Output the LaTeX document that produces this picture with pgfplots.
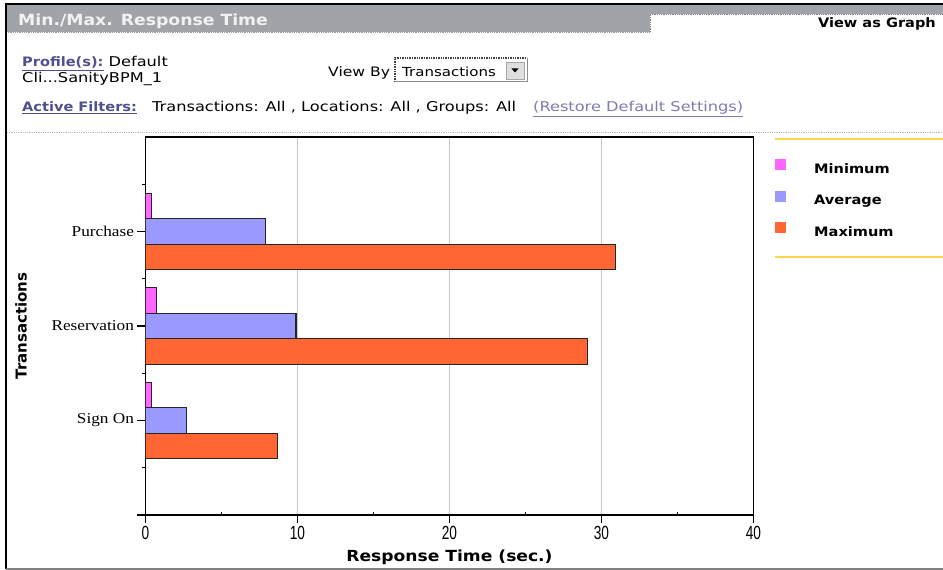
\documentclass[border=0pt]{standalone}
\usepackage{pgfplots}
\pgfplotsset{compat=1.18}
\usepackage{fontspec}
\setmainfont{DejaVu Sans}
\newfontfamily\uifont[FakeStretch=1.2]{DejaVu Sans}
\newfontfamily\uibold[FakeStretch=1.12]{DejaVu Sans}
\newfontfamily\catfont[FakeStretch=1.15]{Liberation Serif}
\newfontfamily\numfont[FakeStretch=0.72]{Liberation Sans}

\definecolor{minc}{RGB}{255,102,255}
\definecolor{avgc}{RGB}{153,153,255}
\definecolor{maxc}{RGB}{255,102,51}
\definecolor{hdr}{RGB}{160,164,169}
\definecolor{lnk}{RGB}{80,80,140}
\definecolor{lnklight}{RGB}{125,125,175}
\definecolor{gold}{RGB}{255,214,80}
\definecolor{gridc}{RGB}{200,200,200}

\begin{document}
\begin{tikzpicture}
\useasboundingbox (0pt,0pt) rectangle (943pt,570pt);
\fill[white] (0pt,0pt) rectangle (943pt,570pt);
\begin{scope}[x=1pt,y=1pt]
% header bar and tab
\fill[hdr] (6,565) rectangle (943,538);
\fill[white] (650,556) rectangle (943,538);
\draw[gray, densely dotted, line width=0.8pt] (650,538) -- (650,556) -- (943,556);
\draw[gray!80, densely dotted, line width=0.8pt] (6,538) -- (650,538);
\draw[black, line width=2pt] (6,566) -- (943,566);
\draw[black, line width=1.8pt] (6,567) -- (6,1);
\draw[gray, line width=2pt] (6,1) -- (943,1);
\node[anchor=base west, inner sep=0, text=white!95!black,
      font=\uibold\bfseries\fontsize{15.4}{16}\selectfont] at (18,544) {Min./Max. Response Time};
\node[anchor=base east, inner sep=0,
      font=\uibold\bfseries\fontsize{13}{14}\selectfont] at (936,542) {View as Graph};

% profile and filters
\begin{scope}[every node/.style={anchor=base west, inner sep=0, font=\uifont\fontsize{13.5}{15}\selectfont}]
\node at (22,503) {{\uibold\fontsize{13}{15}\selectfont\color{lnk}\bfseries\underline{Profile(s):}} Default};
\node at (22,487.5) {Cli...SanityBPM\_1};
\node[font=\uifont\fontsize{13}{15}\selectfont] at (328,493.5) {View By};
\node[text=lnk, font=\uibold\bfseries\fontsize{13}{15}\selectfont] at (22,458) {\underline{Active Filters:}};
\node at (152,458) {Transactions: All , Locations: All , Groups: All};
\node[text=lnklight] at (533,458) {\underline{(Restore Default Settings)}};
\end{scope}
% view by drop-down
\fill[white] (395,512) rectangle (527,488);
\draw[black!75, densely dotted, line width=1.4pt] (395,488) -- (395,512) -- (527,512);
\draw[black!45, line width=1pt] (395,488) -- (527,488) -- (527,512);
\node[anchor=base west, inner sep=0, font=\uifont\fontsize{12.5}{14}\selectfont] at (402,493.5) {Transactions};
\filldraw[fill=gray!25, draw=gray!70, line width=0.8pt] (506,508) rectangle (524,491);
\fill[black] (511.5,501.5) -- (518.5,501.5) -- (515,497.5) -- cycle;

% separators
\draw[gray!55, densely dotted, line width=0.8pt] (7,438) -- (943,438);
\draw[gold, line width=2pt] (775,431) -- (943,431);
\draw[gold, line width=2pt] (775,313) -- (943,313);
\end{scope}

\begin{axis}[
    at={(145.5pt,55pt)}, anchor=south west,
    scale only axis, width=608pt, height=378pt,
    xbar, bar width=0.27,
    xmin=0, xmax=40, ymin=0, ymax=4,
    xtick={0,10,20,30,40},
    ytick={0,1,2,3},
    yticklabels={,Sign On,Reservation,Purchase},
    extra x ticks={5,15,25,35}, extra x tick labels={},
    extra x tick style={grid=none, tick align=inside, major tick length=3pt},
    extra y ticks={0.5,1.5,2.5,3.5}, extra y tick labels={},
    extra y tick style={major tick length=3pt},
    tick align=outside, major tick length=8pt,
    xtick pos=bottom, ytick pos=left,
    xmajorgrids,
    grid style={gridc, line width=1.5pt},
    axis line style={black, line width=1.4pt},
    tick style={black, line width=1.2pt},
    /pgf/number format/assume math mode=true,
    xticklabel style={font=\numfont\fontsize{19}{19}\selectfont},
    yticklabel style={font=\catfont\fontsize{15}{15}\selectfont},
    xlabel={Response Time (sec.)},
    ylabel={Transactions},
    xlabel style={at={(rel axis cs:0.5,-0.1217)}, anchor=base,
                  font=\uibold\bfseries\fontsize{15.3}{16}\selectfont},
    ylabel style={at={(rel axis cs:-0.2048,0.5)}, anchor=center,
                  font=\bfseries\fontsize{15}{16}\selectfont},
    legend style={draw=none, fill=none, at={(rel axis cs:1.0354,0.9413)},
                  anchor=north west, inner sep=0pt, row sep=17pt, column sep=28pt,
                  nodes={inner sep=0pt, text height=9.5pt, text depth=0pt},
                  font=\uibold\bfseries\fontsize{13}{14}\selectfont},
    legend cell align=left,
    legend image code/.code={\fill[#1, draw=none] (0pt,-1.5pt) rectangle (11pt,9.5pt);},
]
\addplot[fill=minc, draw=black!85, line width=1.1pt, bar shift=0.27]
    coordinates {(0.4,3) (0.75,2) (0.4,1)};
\addlegendentry{Minimum}
\addplot[fill=avgc, draw=black!85, line width=1.1pt, bar shift=0]
    coordinates {(7.9,3) (9.9,2) (2.7,1)};
\addlegendentry{Average}
\addplot[fill=maxc, draw=black!85, line width=1.1pt, bar shift=-0.27]
    coordinates {(30.9,3) (29.1,2) (8.7,1)};
\addlegendentry{Maximum}
\end{axis}
\end{tikzpicture}
\end{document}
